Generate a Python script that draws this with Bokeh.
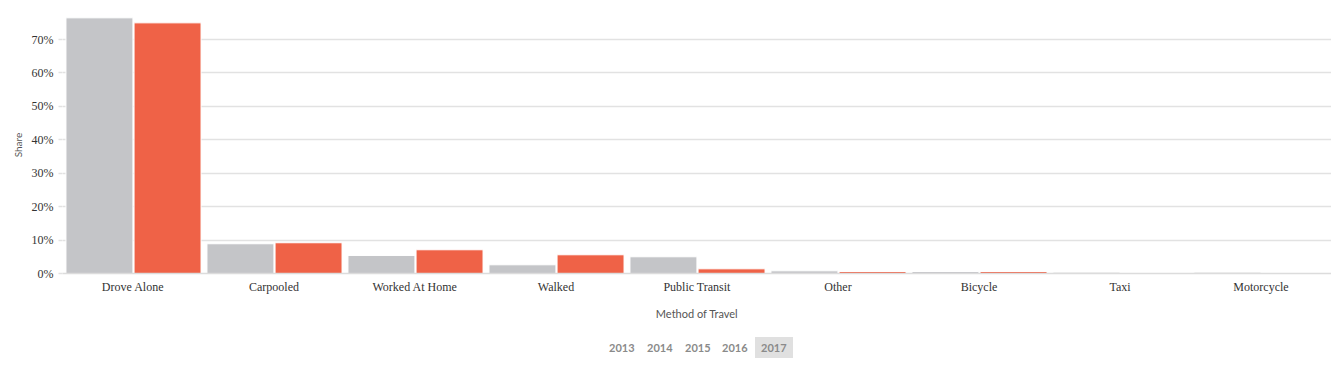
from bokeh.plotting import figure
from bokeh.models import ColumnDataSource, FixedTicker, PrintfTickFormatter, Range1d, Div
from bokeh.layouts import column
from bokeh.transform import dodge
from bokeh.embed import file_html
from bokeh.resources import INLINE

methods = ["Drove Alone", "Carpooled", "Worked At Home", "Walked", "Public Transit",
           "Other", "Bicycle", "Taxi", "Motorcycle"]
share_prev = [76.5, 8.9, 5.4, 2.6, 5.0, 0.8, 0.6, 0.4, 0.4]
share_2017 = [75.0, 9.2, 7.1, 5.6, 1.4, 0.6, 0.6, 0.1, 0.1]
years = ["2013", "2014", "2015", "2016", "2017"]
selected_year = "2017"

src = ColumnDataSource(dict(method=methods, prev=share_prev, cur=share_2017))

p = figure(x_range=methods, y_range=Range1d(0, 76.9), width=1331, height=323,
           output_backend="svg", toolbar_location=None,
           min_border_left=62, min_border_right=0, min_border_top=16, min_border_bottom=50)
p.outline_line_color = None
p.background_fill_color = "white"
p.x_range.range_padding = 0

p.vbar(x=dodge("method", -0.238, range=p.x_range), top="prev", width=0.475, source=src,
       fill_color="#c4c5c8", line_color="white", line_width=1)
p.vbar(x=dodge("method", 0.245, range=p.x_range), top="cur", width=0.475, source=src,
       fill_color="#ef6247", line_color="white", line_width=1)

p.xgrid.grid_line_color = None
p.ygrid.grid_line_color = "#e2e2e2"
p.ygrid.grid_line_width = 1.5

ya = p.yaxis[0]
ya.ticker = FixedTicker(ticks=[0, 10, 20, 30, 40, 50, 60, 70])
ya.formatter = PrintfTickFormatter(format="%d%%")
ya.axis_line_color = None
ya.major_tick_line_color = "#e2e2e2"
ya.major_tick_line_width = 1.5
ya.major_tick_out = 4
ya.major_tick_in = 0
ya.minor_tick_line_color = None
ya.major_label_text_font = "Liberation Serif"
ya.major_label_text_font_size = "12px"
ya.major_label_text_color = "#333333"
ya.major_label_standoff = 5
ya.axis_label = "Share"
ya.axis_label_text_font = "Lato"
ya.axis_label_text_font_size = "10px"
ya.axis_label_text_font_style = "normal"
ya.axis_label_text_color = "#555555"
ya.axis_label_standoff = 5

xa = p.xaxis[0]
xa.axis_line_color = "#dcdcdc"
xa.axis_line_width = 1.5
xa.major_tick_line_color = None
xa.minor_tick_line_color = None
xa.major_label_text_font = "Liberation Serif"
xa.major_label_text_font_size = "12px"
xa.major_label_text_color = "#333333"
xa.major_label_standoff = 0
xa.axis_label = "Method of Travel"
xa.axis_label_text_font = "Lato"
xa.axis_label_text_font_size = "11px"
xa.axis_label_text_font_style = "normal"
xa.axis_label_text_color = "#555555"
xa.axis_label_standoff = 10

lefts = [598, 636, 674, 711, 750]
spans = []
for yr, lx in zip(years, lefts):
    sel = yr == selected_year
    bg = "background:#e0e0e0;" if sel else ""
    spans.append(
        f'<span style="position:absolute;left:{lx}px;top:9px;height:21px;line-height:21px;'
        f'padding:0 6px;{bg}font-family:Lato;font-weight:bold;font-size:11px;color:#8a8a8a;">{yr}</span>')
years_div = Div(text='<div style="position:relative;width:1331px;height:40px;">' + "".join(spans) + "</div>",
                width=1331, height=40)

layout = column(p, years_div, spacing=0)
open("out.html", "w").write(file_html(layout, INLINE))
